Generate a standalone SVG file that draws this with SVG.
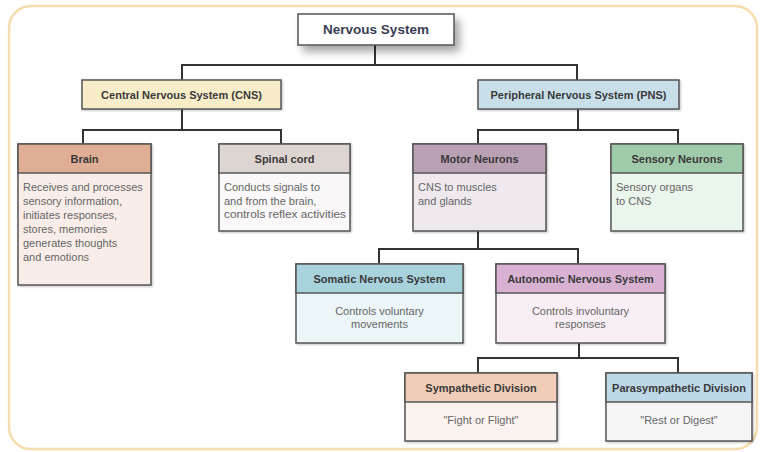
<svg xmlns="http://www.w3.org/2000/svg" width="761" height="452" viewBox="0 0 761 452">
<defs>
<filter id="sh" x="-20%" y="-30%" width="160%" height="200%">
<feGaussianBlur in="SourceAlpha" stdDeviation="4"/>
<feOffset dx="5" dy="6" result="b"/>
<feComponentTransfer><feFuncA type="linear" slope="0.35"/></feComponentTransfer>
<feMerge><feMergeNode/><feMergeNode in="SourceGraphic"/></feMerge>
</filter>
<filter id="sh2" x="-10%" y="-10%" width="120%" height="120%">
<feGaussianBlur in="SourceAlpha" stdDeviation="1"/>
<feOffset dx="1" dy="1" result="b"/>
<feComponentTransfer><feFuncA type="linear" slope="0.25"/></feComponentTransfer>
<feMerge><feMergeNode/><feMergeNode in="SourceGraphic"/></feMerge>
</filter>
</defs>
<style>
.box{stroke:#555;stroke-width:1.5;filter:url(#sh2)}
.div{stroke:#555;stroke-width:1.5}
.hd{font-family:"Liberation Sans",Arial,sans-serif;font-size:11px;font-weight:bold;fill:#3a3a3a;text-anchor:middle}
.bd{font-family:"Liberation Sans",Arial,sans-serif;font-size:11px;fill:#666}
.bc{font-family:"Liberation Sans",Arial,sans-serif;font-size:11px;fill:#666;text-anchor:middle}
.con{fill:none;stroke:#333;stroke-width:2}
</style>
<rect x="0" y="0" width="761" height="452" fill="#ffffff"/>
<rect x="9" y="6" width="748" height="443" rx="22" fill="#ffffff" stroke="#f7dcae" stroke-width="2.5"/>

<g id="connectors">
<path class="con" d="M375 45 V65" stroke-width="3"/>
<path class="con" d="M182 80 V65 H577 V80"/>
<path class="con" d="M182 109 V130"/>
<path class="con" d="M83 144 V130 H281 V144"/>
<path class="con" d="M578 109 V130"/>
<path class="con" d="M478 144 V130 H678 V144"/>
<path class="con" d="M478 231 V249"/>
<path class="con" d="M379 264 V249 H578 V264"/>
<path class="con" d="M579 343 V358"/>
<path class="con" d="M478 373 V358 H678 V373"/>
</g>

<g id="nervous-system">
<rect x="298" y="14" width="156" height="31" fill="#ffffff" stroke="#555" stroke-width="1.5" filter="url(#sh)"/>
<text x="376" y="34" font-family="Liberation Sans, Arial, sans-serif" font-size="13.5" font-weight="bold" fill="#3b3d55" text-anchor="middle">Nervous System</text>
</g>

<g id="cns">
<rect class="box" x="82" y="80" width="199" height="29" fill="#f8edc9"/>
<text class="hd" x="181.5" y="98.5">Central Nervous System (CNS)</text>
</g>

<g id="pns">
<rect class="box" x="478" y="80" width="201" height="29" fill="#c8dfea"/>
<text class="hd" x="578.5" y="98.5">Peripheral Nervous System (PNS)</text>
</g>

<g id="brain">
<rect class="box" x="18" y="144" width="133" height="141" fill="#f8ede8"/>
<rect class="div" x="18" y="144" width="133" height="29" fill="#dfae94"/>
<text class="hd" x="84.5" y="162.5">Brain</text>
<text class="bd" x="23" y="191">Receives and processes</text>
<text class="bd" x="23" y="205">sensory information,</text>
<text class="bd" x="23" y="219">initiates responses,</text>
<text class="bd" x="23" y="233">stores, memories</text>
<text class="bd" x="23" y="247">generates thoughts</text>
<text class="bd" x="23" y="261">and emotions</text>
</g>

<g id="spinal-cord">
<rect class="box" x="219" y="144" width="131" height="87" fill="#faf8f8"/>
<rect class="div" x="219" y="144" width="131" height="29" fill="#ddd5d2"/>
<text class="hd" x="284.5" y="162.5">Spinal cord</text>
<text class="bd" x="224" y="191">Conducts signals to</text>
<text class="bd" x="224" y="204.5">and from the brain,</text>
<text class="bd" x="224" y="218" textLength="122" lengthAdjust="spacingAndGlyphs">controls reflex activities</text>
</g>

<g id="motor-neurons">
<rect class="box" x="413" y="144" width="133" height="87" fill="#efe9ef"/>
<rect class="div" x="413" y="144" width="133" height="29" fill="#b9a0b2"/>
<text class="hd" x="479.5" y="162.5">Motor Neurons</text>
<text class="bd" x="418" y="191">CNS to muscles</text>
<text class="bd" x="418" y="204.5">and glands</text>
</g>

<g id="sensory-neurons">
<rect class="box" x="611" y="144" width="132" height="87" fill="#eaf5ec"/>
<rect class="div" x="611" y="144" width="132" height="29" fill="#a0cbaa"/>
<text class="hd" x="677" y="162.5">Sensory Neurons</text>
<text class="bd" x="616" y="191">Sensory organs</text>
<text class="bd" x="616" y="204.5">to CNS</text>
</g>

<g id="somatic">
<rect class="box" x="296" y="264" width="167" height="79" fill="#ecf5f8"/>
<rect class="div" x="296" y="264" width="167" height="29" fill="#a8d2dc"/>
<text class="hd" x="379.5" y="282.5">Somatic Nervous System</text>
<text class="bc" x="379.5" y="315">Controls voluntary</text>
<text class="bc" x="379.5" y="328">movements</text>
</g>

<g id="autonomic">
<rect class="box" x="496" y="264" width="169" height="79" fill="#f8eef5"/>
<rect class="div" x="496" y="264" width="169" height="29" fill="#d9b2d3"/>
<text class="hd" x="580.5" y="282.5">Autonomic Nervous System</text>
<text class="bc" x="580.5" y="315">Controls involuntary</text>
<text class="bc" x="580.5" y="328">responses</text>
</g>

<g id="sympathetic">
<rect class="box" x="405" y="373" width="152" height="68" fill="#fbf3ef"/>
<rect class="div" x="405" y="373" width="152" height="29" fill="#f1cdb8"/>
<text class="hd" x="481" y="391.5">Sympathetic Division</text>
<text class="bc" x="481" y="424">"Fight or Flight"</text>
</g>

<g id="parasympathetic">
<rect class="box" x="606" y="373" width="146" height="68" fill="#f6f6f7"/>
<rect class="div" x="606" y="373" width="146" height="29" fill="#bdd8e8"/>
<text class="hd" x="679" y="391.5">Parasympathetic Division</text>
<text class="bc" x="679" y="424">"Rest or Digest"</text>
</g>
</svg>
